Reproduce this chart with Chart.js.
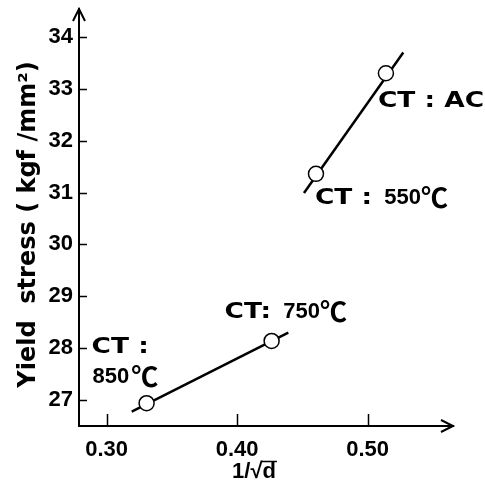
<!DOCTYPE html>
<html>
<head>
<meta charset="utf-8">
<script src="https://cdn.jsdelivr.net/npm/chart.js@4.4.0/dist/chart.umd.min.js"></script>
<style>
  html, body { margin: 0; padding: 0; background: #fff; }
  canvas { display: block; }
</style>
</head>
<body>
<canvas id="yieldChart" width="485" height="488"></canvas>
<script>
// values
const pointX = [0.3306, 0.4264, 0.4604, 0.5140];
const pointY = [26.94, 28.14, 31.36, 33.30];
const coilTemps = ['850', '750', '550', 'AC'];
const lowFitX = [0.3192, 0.4392];
const lowFitY = [26.775, 28.30];
const highFitX = [0.4512, 0.5273];
const highFitY = [30.99, 33.70];
const xTicks = [0.30, 0.40, 0.50];
const yTicks = [27, 28, 29, 30, 31, 32, 33, 34];

const WIDE = { font: 'bold 22px "DejaVu Sans"', sx: 1.2 };
const NUM = { font: 'bold 22px "Liberation Sans"', sx: 1 };
const DEG = { font: 'bold 27px "Noto Sans CJK JP"', sx: 1 };

// label pieces per point, offset (px) from the marker centre; numbers are gaps in px
const labelLayout = [
  [{ dx: -55, dy: -56, parts: [[WIDE, 'CT :']] },
   { dx: -54, dy: -26, parts: [[NUM, '850'], 2, [DEG, '℃']] }],
  [{ dx: -47, dy: -29, parts: [[WIDE, 'CT:'], [NUM, '  750'], [DEG, '℃']] }],
  [{ dx: -1, dy: 24, parts: [[WIDE, 'CT :'], [NUM, '  550'], [DEG, '℃']] }],
  [{ dx: -8, dy: 28, parts: [[WIDE, 'CT : AC']] }]
];

function drawParts(ctx, x, y, parts) {
  ctx.textBaseline = 'middle';
  ctx.textAlign = 'left';
  parts.forEach(p => {
    if (typeof p === 'number') { x += p; return; }
    const [style, text] = p;
    ctx.font = style.font;
    const w = ctx.measureText(text).width * style.sx;
    ctx.save();
    ctx.translate(x, y);
    ctx.scale(style.sx, 1);
    ctx.fillText(text, 0, 0);
    ctx.restore();
    x += w;
  });
}

const decor = {
  id: 'decor',
  afterDraw(chart) {
    const { ctx, chartArea: a, scales: { x, y } } = chart;
    ctx.save();
    ctx.strokeStyle = '#000';
    ctx.fillStyle = '#000';

    // inward tick marks
    ctx.lineWidth = 1.5;
    ctx.beginPath();
    yTicks.forEach(v => {
      const py = Math.round(y.getPixelForValue(v)) + 0.5;
      ctx.moveTo(a.left, py);
      ctx.lineTo(a.left + 8, py);
    });
    xTicks.forEach(v => {
      const px = Math.round(x.getPixelForValue(v)) + 0.5;
      ctx.moveTo(px, a.bottom);
      ctx.lineTo(px, a.bottom - 12);
    });
    ctx.stroke();

    // arrow heads
    ctx.lineWidth = 2;
    ctx.beginPath();
    ctx.moveTo(a.left - 6, a.top + 12);
    ctx.lineTo(a.left, a.top);
    ctx.lineTo(a.left + 6, a.top + 12);
    ctx.moveTo(a.right - 12, a.bottom - 6);
    ctx.lineTo(a.right, a.bottom);
    ctx.lineTo(a.right - 12, a.bottom + 6);
    ctx.stroke();

    // point labels
    const meta = chart.getDatasetMeta(0);
    labelLayout.forEach((items, i) => {
      const el = meta.data[i];
      items.forEach(it => drawParts(ctx, el.x + it.dx, el.y + it.dy, it.parts));
    });

    // y title
    ctx.save();
    ctx.translate(35, (a.top + a.bottom) / 2 + 7);
    ctx.rotate(-Math.PI / 2);
    ctx.font = 'bold 24px "DejaVu Sans"';
    ctx.textAlign = 'center';
    ctx.textBaseline = 'alphabetic';
    ctx.fillText('Yield  stress ( kgf /mm²)', 0, 0);
    ctx.restore();

    // x title 1/√d with a bar over d
    ctx.font = 'bold 22px "Liberation Sans"';
    ctx.textAlign = 'left';
    ctx.textBaseline = 'alphabetic';
    const txt = '1/√d';
    const total = ctx.measureText(txt).width;
    const head = ctx.measureText('1/√').width;
    const x0 = 254 - total / 2, base = 478;
    ctx.fillText(txt, x0, base);
    ctx.lineWidth = 1.5;
    ctx.beginPath();
    ctx.moveTo(x0 + head - 1, base - 16.5);
    ctx.lineTo(x0 + total + 1, base - 16.5);
    ctx.stroke();

    ctx.restore();
  }
};

const noEdgePadding = s => {
  s.paddingTop = 0; s.paddingBottom = 0;
  s.paddingLeft = 0; s.paddingRight = 0;
};

const ctx = document.getElementById('yieldChart').getContext('2d');
const chart = new Chart(ctx, {
  type: 'scatter',
  data: {
    datasets: [
      {
        label: 'CT',
        data: pointX.map((v, i) => ({ x: v, y: pointY[i] })),
        pointRadius: 7.5,
        pointBackgroundColor: '#fff',
        pointBorderColor: '#000',
        pointBorderWidth: 1.5,
        showLine: false
      },
      {
        label: 'fit low',
        data: lowFitX.map((v, i) => ({ x: v, y: lowFitY[i] })),
        showLine: true,
        borderColor: '#000',
        borderWidth: 2.5,
        pointRadius: 0
      },
      {
        label: 'fit high',
        data: highFitX.map((v, i) => ({ x: v, y: highFitY[i] })),
        showLine: true,
        borderColor: '#000',
        borderWidth: 2.5,
        pointRadius: 0
      }
    ]
  },
  options: {
    responsive: false,
    animation: false,
    devicePixelRatio: 1,
    layout: { padding: { top: 8, right: 32, left: 0, bottom: 0 } },
    plugins: { legend: { display: false }, tooltip: { enabled: false } },
    scales: {
      x: {
        type: 'linear',
        min: 0.2788,
        max: 0.5654,
        afterBuildTicks: s => { s.ticks = xTicks.map(v => ({ value: v })); },
        afterFit: s => { s.height = 62; noEdgePadding(s); },
        grid: { display: false, drawTicks: false },
        border: { display: true, color: '#000', width: 2 },
        ticks: {
          callback: v => v.toFixed(2),
          color: '#000',
          font: { family: 'Liberation Sans', weight: 'bold', size: 22 },
          padding: 11,
          maxRotation: 0,
          autoSkip: false
        }
      },
      y: {
        type: 'linear',
        min: 26.5,
        max: 34.538,
        afterBuildTicks: s => { s.ticks = yTicks.map(v => ({ value: v })); },
        afterFit: s => { s.width = 79; noEdgePadding(s); },
        grid: { display: false, drawTicks: false },
        border: { display: true, color: '#000', width: 2 },
        ticks: {
          color: '#000',
          font: { family: 'Liberation Sans', weight: 'bold', size: 22 },
          padding: 6,
          autoSkip: false
        }
      }
    }
  },
  plugins: [decor]
});
</script>
</body>
</html>
